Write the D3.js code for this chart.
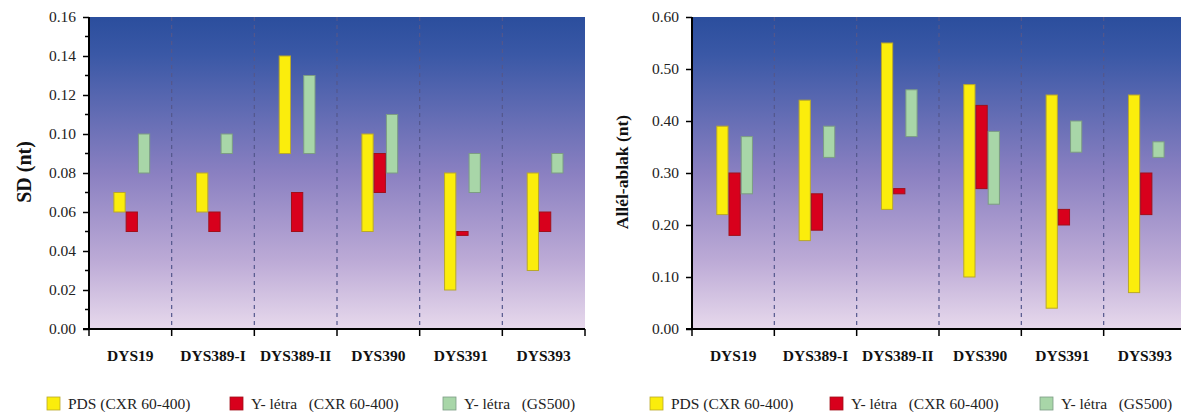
<!DOCTYPE html>
<html>
<head>
<meta charset="utf-8">
<script src="https://cdn.jsdelivr.net/npm/d3@7/dist/d3.min.js"></script>
<style>
  html, body { margin: 0; padding: 0; background: #fff; }
  svg { display: block; }
  svg text { font-family: "Liberation Serif", "DejaVu Serif", serif; }
  .legend_text { white-space: pre; }
</style>
</head>
<body>
<svg id="chart" width="1181" height="412"></svg>
<script>
const categories = ['DYS19', 'DYS389-I', 'DYS389-II', 'DYS390', 'DYS391', 'DYS393'];
const seriesNames = ['PDS (CXR 60-400)', 'Y- létra   (CXR 60-400)', 'Y- létra   (GS500)'];
const seriesColors = ['#fbed0c', '#d8001c', '#a8d6a8'];
const seriesStrokes = ['#b9a82a', '#a0101a', '#7c9c84'];

// [low, high] per category
const sdPds = [[0.06, 0.07], [0.06, 0.08], [0.09, 0.14], [0.05, 0.10], [0.02, 0.08], [0.03, 0.08]];
const sdLadderCxr = [[0.05, 0.06], [0.05, 0.06], [0.05, 0.07], [0.07, 0.09], [0.048, 0.05], [0.05, 0.06]];
const sdLadderGs = [[0.08, 0.10], [0.09, 0.10], [0.09, 0.13], [0.08, 0.11], [0.07, 0.09], [0.08, 0.09]];

const winPds = [[0.22, 0.39], [0.17, 0.44], [0.23, 0.55], [0.10, 0.47], [0.04, 0.45], [0.07, 0.45]];
const winLadderCxr = [[0.18, 0.30], [0.19, 0.26], [0.26, 0.27], [0.27, 0.43], [0.20, 0.23], [0.22, 0.30]];
const winLadderGs = [[0.26, 0.37], [0.33, 0.39], [0.37, 0.46], [0.24, 0.38], [0.34, 0.40], [0.33, 0.36]];

const sdTicks = [0, 0.02, 0.04, 0.06, 0.08, 0.10, 0.12, 0.14, 0.16];
const sdMinorTicks = [0.01, 0.03, 0.05, 0.07, 0.09, 0.11, 0.13, 0.15];
const winTicks = [0, 0.1, 0.2, 0.3, 0.4, 0.5, 0.6];

const FONT = '"Liberation Serif", "DejaVu Serif", serif';

const svg = d3.select('#chart');

// background gradient shared by both panels
const defs = svg.append('defs');
const grad = defs.append('linearGradient')
  .attr('id', 'bg')
  .attr('x1', 0).attr('y1', 0).attr('x2', 0).attr('y2', 1);
[[0, '#2b4e9d'], [0.12, '#3a58a6'], [0.5, '#8a80c1'], [0.78, '#bcaad6'], [1, '#e7d9ec']]
  .forEach(s => grad.append('stop').attr('offset', s[0]).attr('stop-color', s[1]));

function drawPanel(opts) {
  const x = d3.scaleBand().domain(categories).range([opts.left, opts.right]);
  const y = d3.scaleLinear().domain([0, opts.max]).range([opts.bottom, opts.top]);
  const bw = x.bandwidth();
  const inner = d3.scaleBand().domain(d3.range(3)).range([bw * 0.295, bw * 0.74]);

  const g = svg.append('g').attr('font-family', FONT);

  g.append('rect')
    .attr('x', opts.left)
    .attr('y', opts.top)
    .attr('width', opts.right - opts.left)
    .attr('height', opts.bottom - opts.top)
    .attr('fill', 'url(#bg)');

  // dashed separators between categories
  g.selectAll('.sep')
    .data(categories.slice(1))
    .enter().append('line')
    .attr('class', 'sep')
    .attr('x1', d => x(d)).attr('x2', d => x(d))
    .attr('y1', opts.top).attr('y2', opts.bottom)
    .attr('stroke', '#54578c')
    .attr('stroke-width', 1.2)
    .attr('stroke-dasharray', '4,4');

  opts.series.forEach((values, si) => {
    g.selectAll('.bar' + si)
      .data(values)
      .enter().append('rect')
      .attr('class', 'bar' + si)
      .attr('x', (d, i) => x(categories[i]) + inner(si) + 0.5)
      .attr('y', d => y(d[1]))
      .attr('width', inner.bandwidth() - 1)
      .attr('height', d => y(d[0]) - y(d[1]))
      .attr('fill', seriesColors[si])
      .attr('stroke', seriesStrokes[si])
      .attr('stroke-width', 1);
  });

  // y axis
  const yAxis = d3.axisLeft(y).tickValues(opts.ticks)
    .tickFormat(d3.format('.2f')).tickSize(6).tickPadding(7);
  const ya = g.append('g')
    .attr('transform', 'translate(' + opts.left + ',0)')
    .call(yAxis)
    .attr('font-family', FONT);
  ya.select('.domain').attr('stroke', '#000').attr('stroke-width', 2)
    .attr('d', 'M0,' + opts.top + 'V' + opts.bottom);
  ya.selectAll('.tick line').attr('stroke', '#000').attr('stroke-width', 1.5);
  ya.selectAll('.tick text').attr('font-size', 15.5).attr('fill', '#222');

  if (opts.minor) {
    g.selectAll('.minor')
      .data(opts.minor)
      .enter().append('line')
      .attr('x1', opts.left - 4).attr('x2', opts.left)
      .attr('y1', d => y(d)).attr('y2', d => y(d))
      .attr('stroke', '#000').attr('stroke-width', 1.5);
  }

  // x axis with ticks at category boundaries
  const bounds = categories.map(c => x(c)).concat([opts.right]);
  g.append('line')
    .attr('x1', opts.left - 6).attr('x2', opts.right)
    .attr('y1', opts.bottom).attr('y2', opts.bottom)
    .attr('stroke', '#000').attr('stroke-width', 2);
  g.selectAll('.xtick')
    .data(bounds)
    .enter().append('line')
    .attr('x1', d => d).attr('x2', d => d)
    .attr('y1', opts.bottom).attr('y2', opts.bottom + 7)
    .attr('stroke', '#000').attr('stroke-width', 1.5);

  g.selectAll('.xlabel')
    .data(categories)
    .enter().append('text')
    .attr('x', d => x(d) + bw / 2)
    .attr('y', opts.bottom + 32)
    .attr('text-anchor', 'middle')
    .attr('font-size', 15.5)
    .attr('font-weight', 'bold')
    .attr('fill', '#111')
    .text(d => d);

  g.append('text')
    .attr('transform', 'translate(' + opts.titleX + ',172) rotate(-90)')
    .attr('text-anchor', 'middle')
    .attr('font-size', opts.titleSize)
    .attr('font-weight', 'bold')
    .attr('fill', '#111')
    .text(opts.title);

  // legend
  const legend = g.selectAll('.legend')
    .data(seriesNames)
    .enter().append('g')
    .attr('class', 'legend')
    .attr('transform', (d, i) => 'translate(' + opts.legendX[i] + ',397)');
  legend.append('rect')
    .attr('width', 13).attr('height', 13)
    .attr('fill', (d, i) => seriesColors[i])
    .attr('stroke', (d, i) => seriesStrokes[i])
    .attr('stroke-width', 0.8);
  legend.append('text')
    .attr('class', 'legend_text')
    .attr('x', 21).attr('y', 11.5)
    .attr('font-size', 15.5)
    .attr('fill', '#222')
    .text(d => d);
}

drawPanel({
  left: 89, right: 585, top: 17, bottom: 329, max: 0.16,
  ticks: sdTicks, minor: sdMinorTicks,
  series: [sdPds, sdLadderCxr, sdLadderGs],
  title: 'SD (nt)', titleX: 31, titleSize: 20,
  legendX: [47, 230, 443]
});

drawPanel({
  left: 692, right: 1186, top: 17, bottom: 329, max: 0.60,
  ticks: winTicks, minor: null,
  series: [winPds, winLadderCxr, winLadderGs],
  title: 'Allél-ablak (nt)', titleX: 628, titleSize: 17.5,
  legendX: [650, 830, 1040]
});
</script>
</body>
</html>
